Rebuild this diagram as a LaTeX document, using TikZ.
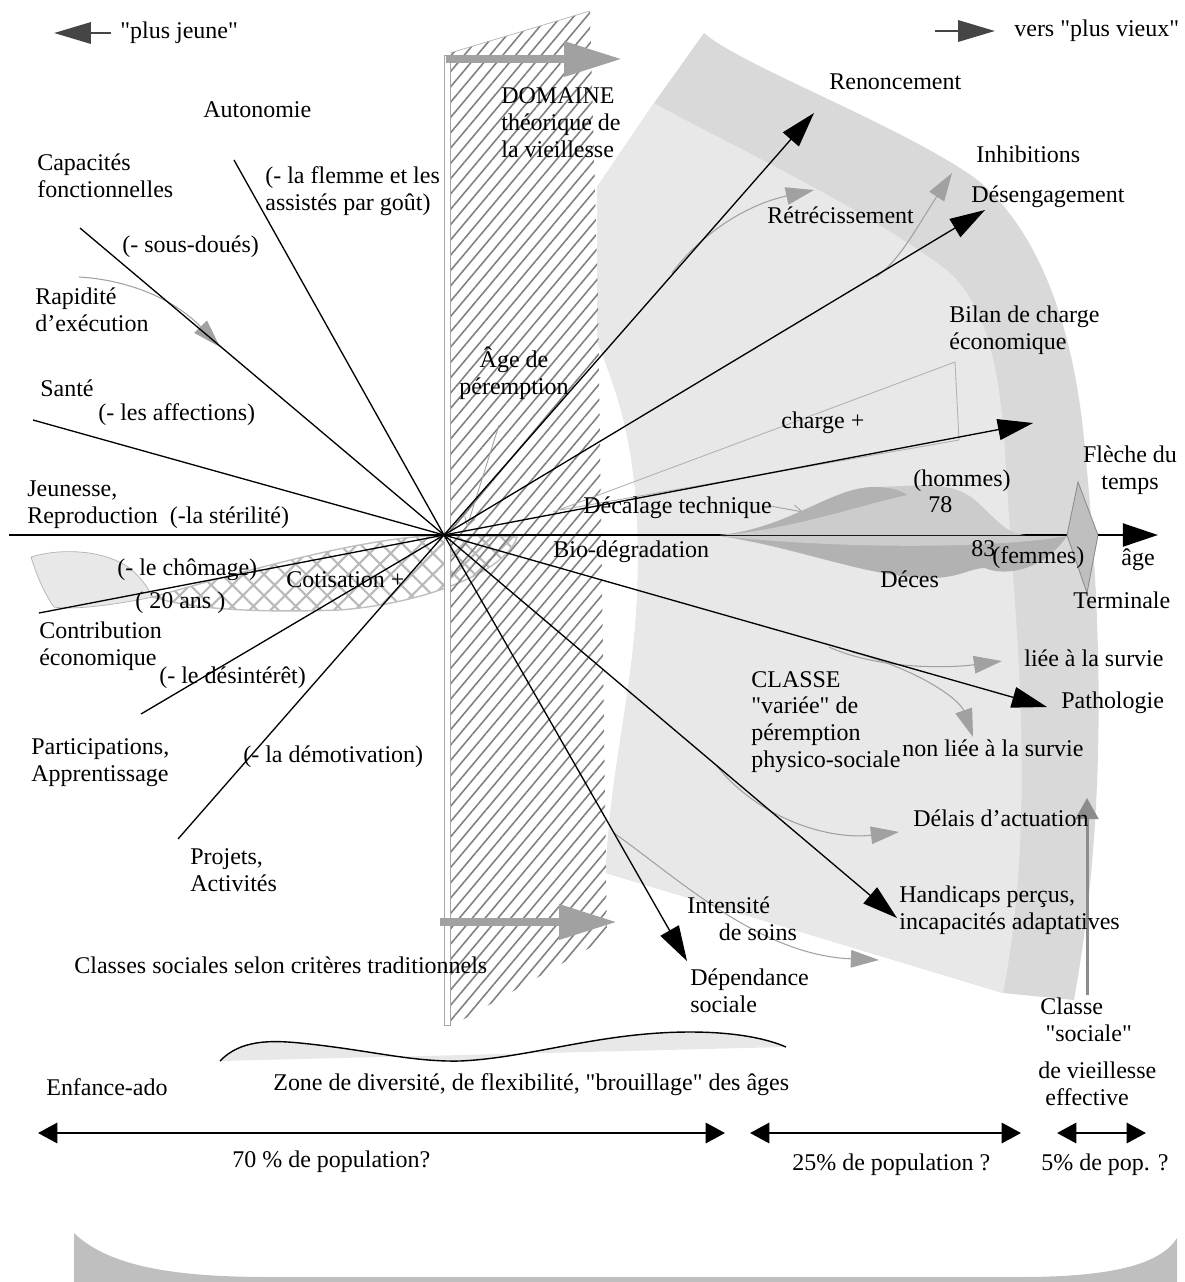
\documentclass[tikz,border=0pt]{standalone}
\usepackage{fontspec}
\setmainfont{Liberation Serif}[Ligatures=TeXOff]
\usetikzlibrary{arrows.meta,patterns.meta}
\definecolor{bandgray}{gray}{0.85}
\definecolor{fillgray}{gray}{0.91}
\definecolor{arrgray}{gray}{0.63}
\definecolor{rodgray}{gray}{0.55}
\definecolor{slate}{gray}{0.27}
\definecolor{bowlgray}{gray}{0.75}
\definecolor{deathdark}{gray}{0.70}
\definecolor{deathlight}{gray}{0.80}

\begin{document}
\begin{tikzpicture}[x=0.02cm,y=-0.02cm,
  lbl/.style={inner sep=0pt,anchor=west,align=left,font=\fontsize{13.65}{15.3}\selectfont},
  ray/.style={line width=0.75pt},
  rayarrow/.style={ray,-{Triangle[length=20pt,width=12pt]}},
  grayflow/.style={arrgray,line width=0.6pt,-{Triangle[length=16pt,width=10pt]}},
  thickgray/.style={arrgray,line width=5pt,-{Triangle[length=33pt,width=19pt]}},
  popul/.style={line width=1.5pt,{Triangle[length=11pt,width=11.5pt]}-{Triangle[length=11pt,width=11.5pt]}},
  sens/.style={slate,line width=1.7pt,-{Triangle[length=21pt,width=12pt]}}]
  \useasboundingbox (0,0) rectangle (1184,1282);

  % zone de vieillesse effective
  \fill[bandgray] (704,33) .. controls (740,65) and (900,125) .. (975,178) .. controls (1040,230) and (1075,330) .. (1085,450) .. controls (1100,600) and (1110,800) .. (1074,1000) -- (1003,993) -- (606,873) .. controls (610,760) and (638,680) .. (638,560) .. controls (638,450) and (620,400) .. (597,340) -- (597,187) -- (654,103) -- cycle;
  \fill[fillgray] (654,103) .. controls (720,140) and (850,200) .. (940,265) .. controls (990,300) and (1000,380) .. (1005,450) .. controls (1012,600) and (1040,800) .. (1003,993) -- (606,873) .. controls (610,760) and (638,680) .. (638,560) .. controls (638,450) and (620,400) .. (597,340) -- (597,187) -- cycle;

  % bas
  \fill[bowlgray] (74,1233) .. controls (110,1268) and (180,1277) .. (270,1277) -- (1020,1277) .. controls (1110,1277) and (1160,1265) .. (1177,1238) -- (1177,1282) -- (74,1282) -- cycle;
  \fill[fillgray] (220,1061) .. controls (240,1040) and (270,1040) .. (300,1043) .. controls (370,1050) and (410,1062) .. (460,1061) .. controls (530,1058) and (600,1032) .. (690,1032) .. controls (740,1032) and (770,1040) .. (786,1047) -- cycle;
  \draw[line width=0.8pt] (220,1061) .. controls (240,1040) and (270,1040) .. (300,1043) .. controls (370,1050) and (410,1062) .. (460,1061) .. controls (530,1058) and (600,1032) .. (690,1032) .. controls (740,1032) and (770,1040) .. (786,1047);

  % cotisation
  \filldraw[fill=fillgray,draw=gray!60,line width=0.4pt] (31,557) .. controls (60,548) and (100,550) .. (125,565) .. controls (140,575) and (148,588) .. (153,597) .. controls (110,606) and (70,610) .. (54,607) .. controls (42,590) and (35,570) .. (31,557) -- cycle;
  \draw[draw=gray!50,line width=0.8pt,pattern={Hatch[angle=45,distance=8.5pt,line width=1.2pt]},pattern color=gray!55] (153,597) .. controls (200,612) and (280,612) .. (340,610) .. controls (400,605) and (450,590) .. (485,570) .. controls (505,558) and (515,545) .. (517,537) -- (444,535) .. controls (380,537) and (300,555) .. (153,597) -- cycle;

  % domaine theorique
  \fill[pattern={Lines[angle=50,distance=5.6pt,line width=0.9pt]},pattern color=gray] (450,53) -- (590,11) -- (598,300) -- (607,938) -- (450,1027) -- cycle;
  \draw[gray!60,line width=0.4pt] (450,53) -- (590,11);
  \filldraw[fill=white,draw=gray!70,line width=0.5pt] (444,55) rectangle (450,1025);
  \coordinate (topShaft) at (446,59);
  \coordinate (topTip) at (622,59);
  \coordinate (lowShaft) at (440,922);
  \coordinate (lowTip) at (617,922);
  \draw[thickgray] (topShaft) -- (topTip);
  \draw[thickgray] (lowShaft) -- (lowTip);

  % bilan de charge
  \draw[gray!60,line width=0.5pt] (553,512) -- (955,362) -- (959,440) -- (560,510);

  % fleches grises
  \draw[grayflow] (79,277) .. controls (130,280) and (175,300) .. (220,347);
  \draw[grayflow] (672,273) .. controls (700,235) and (745,205) .. (814,190);
  \draw[grayflow] (876,277) .. controls (900,260) and (915,230) .. (952,173);
  \draw[grayflow] (829,647) .. controls (880,670) and (950,668) .. (1002,661);
  \draw[grayflow] (852,652) .. controls (920,670) and (960,700) .. (973,737);
  \draw[grayflow] (716,765) .. controls (760,820) and (830,840) .. (899,832);
  \draw[grayflow] (614,833) .. controls (680,880) and (760,955) .. (879,960);
  \draw[arrgray,line width=0.5pt,-{Straight Barb[length=5pt,width=6pt]}] (499,425) -- (467,527);
  \draw[arrgray,line width=0.5pt,-{Straight Barb[length=5pt,width=6pt]}] (770,506) -- (803,512);
  \draw[rodgray,line width=1.7pt,-{Triangle[length=12pt,width=13pt]}] (1087,995) -- (1087,798);

  % axe
  \coordinate (C) at (444,535);
  \coordinate (axisStart) at (9,535);
  \coordinate (axisTip) at (1158,535);
  \draw[line width=1.6pt] (axisStart) -- (C) -- (1075,535);

  % deces
  \fill[deathlight] (720,535) .. controls (790,528) and (830,488) .. (873,487) .. controls (920,486) and (950,480) .. (975,500) .. controls (995,518) and (1005,533) .. (1025,535) -- cycle;
  \fill[deathdark] (720,535) .. controls (790,528) and (830,488) .. (873,487) .. controls (890,487) and (900,490) .. (907,495) .. controls (860,505) and (790,530) .. (720,535) -- cycle;
  \fill[deathdark] (720,536) .. controls (800,548) and (870,578) .. (930,578) .. controls (960,578) and (970,568) .. (985,568) .. controls (1000,575) and (1040,575) .. (1067,536) -- cycle;
  \fill[deathlight] (720,536) .. controls (850,550) and (1000,548) .. (1067,536) -- cycle;

  % fleche du temps
  \filldraw[fill=gray!50,draw=gray!90,line width=0.5pt] (1078,482) -- (1098,535) -- (1087,593) -- (1067,535) -- cycle;
  \coordinate (kiteRight) at (1098,535);
  \draw[line width=1.6pt,-{Triangle[length=20pt,width=13pt]}] (kiteRight) -- (axisTip);

  % rayons
  \coordinate (autoEnd) at (234,160);
  \coordinate (capaEnd) at (80,228);
  \coordinate (santeEnd) at (33,420);
  \coordinate (contribEnd) at (39,613);
  \coordinate (particEnd) at (141,714);
  \coordinate (projEnd) at (178,839);
  \draw[ray] (C) -- (autoEnd);
  \draw[ray] (C) -- (capaEnd);
  \draw[ray] (C) -- (santeEnd);
  \draw[ray] (C) -- (contribEnd);
  \draw[ray] (C) -- (particEnd);
  \draw[ray] (C) -- (projEnd);
  \coordinate (renTip) at (814,113);
  \coordinate (desTip) at (985,210);
  \coordinate (chargeTip) at (1033,423);
  \coordinate (pathoTip) at (1047,707);
  \coordinate (handiTip) at (897,918);
  \coordinate (dependTip) at (687,961);
  \draw[rayarrow] (C) -- (renTip);
  \draw[rayarrow] (C) -- (desTip);
  \draw[rayarrow] (C) -- (chargeTip);
  \draw[rayarrow] (C) -- (pathoTip);
  \draw[rayarrow] (C) -- (handiTip);
  \draw[rayarrow] (C) -- (dependTip);

  % sens
  \draw[sens] (111,33) -- (54,33);
  \draw[sens] (935,31) -- (995,31);

  % populations
  \draw[popul] (38,1133) -- (725,1133);
  \draw[popul] (750,1133) -- (1021,1133);
  \draw[popul] (1057,1133) -- (1146,1133);

  % textes
  \node[lbl] (jeune) at (120,33) {"plus jeune"};
  \node[lbl] (vieux) at (1014,31) {vers "plus vieux"};
  \node[lbl] (auto) at (203,110) {Autonomie};
  \node[lbl] (capa) at (37,176) {Capacités\\fonctionnelles};
  \node[lbl] (flemme) at (265,191) {(- la flemme et les\\assistés par goût)};
  \node[lbl] (sousdoues) at (122,247) {(- sous-doués)};
  \node[lbl] (rapid) at (35,310) {Rapidité\\d’exécution};
  \node[lbl] (sante) at (40,388) {Santé};
  \node[lbl] (affect) at (98,415) {(- les affections)};
  \node[lbl] (jeunesse) at (27,505) {Jeunesse,\\Reproduction~~(-la stérilité)};
  \node[lbl] (chomage) at (117,570) {(- le chômage)};
  \node[lbl] (vingt) at (135,603) {( 20 ans )};
  \node[lbl] (cotis) at (286,580) {Cotisation +};
  \node[lbl] (contrib) at (39,646) {Contribution\\économique};
  \node[lbl] (desint) at (159,678) {(- le désintérêt)};
  \node[lbl] (partic) at (31,763) {Participations,\\Apprentissage};
  \node[lbl] (demot) at (243,757) {(- la démotivation)};
  \node[lbl] (projets) at (190,870) {Projets,\\Activités};
  \node[lbl] (tradi) at (74,965) {Classes sociales selon critères traditionnels};
  \node[lbl] (domaine) at (501,123) {DOMAINE\\théorique de\\la vieillesse};
  \node[lbl,anchor=center,align=center] (peremp) at (514,373) {Âge de\\péremption};
  \node[lbl] (renonc) at (829,82) {Renoncement};
  \node[lbl] (inhib) at (976,154) {Inhibitions};
  \node[lbl] (retrec) at (767,215) {Rétrécissement};
  \node[lbl] (degag) at (971,197) {Désengagement};
  \node[lbl] (bilan) at (949,330) {Bilan de charge\\économique};
  \node[lbl] (charge) at (781,423) {charge +};
  \node[lbl] (decal) at (583,508) {Décalage technique};
  \node[lbl] (biodeg) at (553,552) {Bio-dégradation};
  \node[lbl] (hommes) at (913,481) {(hommes)};
  \node[lbl] (hage) at (928,505) {78};
  \node[lbl] (fage) at (971,549) {83};
  \node[lbl] (femmes) at (992,558) {(femmes)};
  \node[lbl] (deces) at (880,579) {Déces};
  \node[lbl,anchor=center,align=center] (fleche) at (1130,470) {Flèche du\\temps};
  \node[lbl] (age) at (1121,560) {âge};
  \node[lbl] (termin) at (1073,600) {Terminale};
  \node[lbl] (liee) at (1024,658) {liée à la survie};
  \node[lbl] (classe) at (751,722) {CLASSE\\"variée" de\\péremption\\physico-sociale};
  \node[lbl] (patho) at (1061,703) {Pathologie};
  \node[lbl] (nonliee) at (902,748) {non liée à la survie};
  \node[lbl] (delais) at (913,818) {Délais d’actuation};
  \node[lbl] (handi) at (899,910) {Handicaps perçus,\\incapacités adaptatives};
  \node[lbl] (intens) at (687,919) {Intensité\\\hspace*{18pt}de soins};
  \node[lbl] (depend) at (690,991) {Dépendance\\sociale};
  \node[lbl] (classeSoc) at (1040,1020) {Classe\\\hspace*{3pt}"sociale"};
  \node[lbl] (vieillesse) at (1038,1084) {de vieillesse\\\hspace*{4pt}effective};
  \node[lbl] (enfance) at (46,1087) {Enfance-ado};
  \node[lbl] (zone) at (273,1085) {Zone de diversité, de flexibilité, "brouillage" des âges};
  \node[lbl] (pop70) at (232,1162) {70 \% de population?};
  \node[lbl] (pop25) at (792,1165) {25\% de population ?};
  \node[lbl] (pop5) at (1041,1165) {5\% de pop. ?};
\end{tikzpicture}
\end{document}
